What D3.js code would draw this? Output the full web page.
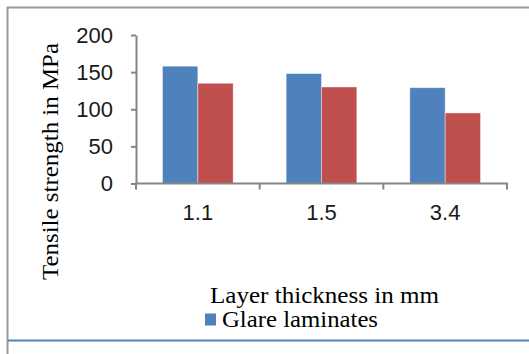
<!DOCTYPE html>
<html>
<head>
<meta charset="utf-8">
<script src="https://cdn.jsdelivr.net/npm/d3@7"></script>
<style>
  html, body { margin: 0; padding: 0; background: #fff; }
  svg { display: block; }
</style>
</head>
<body>
<svg id="chart" width="529" height="354"></svg>
<script>
// Tensile strength of glare laminates by layer thickness
const categories = ["1.1", "1.5", "3.4"];
const seriesNames = ["Glare laminates", "Series 2"];
const glareValues = [158, 148, 129];
const secondValues = [135, 130, 95];
const yTicks = [0, 50, 100, 150, 200];

const seriesColors = ["#4F81BD", "#C0504D"];
const axisColor = "#868686";
const serif = "'Liberation Serif', 'Times New Roman', serif";
const sans = "'Liberation Sans', Arial, sans-serif";

const svg = d3.select("#chart");

// frame lines
svg.append("line").attr("x1", 7.5).attr("x2", 7.5).attr("y1", 7).attr("y2", 354)
  .attr("stroke", "#9a9a9a").attr("stroke-width", 2);
svg.append("line").attr("x1", 7).attr("x2", 529).attr("y1", 7.5).attr("y2", 7.5)
  .attr("stroke", "#9a9a9a").attr("stroke-width", 2);
svg.append("line").attr("x1", 8).attr("x2", 529).attr("y1", 340.5).attr("y2", 340.5)
  .attr("stroke", "#4F81BD").attr("stroke-width", 2);

const plot = { left: 136, right: 507, top: 35, bottom: 183.5 };

const x0 = d3.scaleBand().domain(categories).range([plot.left, plot.right]).padding(0);
const x1 = d3.scaleBand().domain(d3.range(seriesNames.length))
  .range([0, x0.bandwidth()]).paddingInner(0).paddingOuter(0.75);
const y = d3.scaleLinear().domain([0, 200]).range([plot.bottom, plot.top]);

const rows = categories.map((c, i) => ({ cat: c, vals: [glareValues[i], secondValues[i]] }));

// bars
const groups = svg.append("g").selectAll("g").data(rows).join("g")
  .attr("transform", d => `translate(${x0(d.cat)},0)`);
groups.selectAll("rect").data(d => d.vals.map((v, k) => ({ v, k }))).join("rect")
  .attr("x", d => x1(d.k))
  .attr("y", d => y(d.v))
  .attr("width", x1.bandwidth())
  .attr("height", d => y(0) - y(d.v))
  .attr("fill", d => seriesColors[d.k])
  .attr("stroke", "rgba(255,255,255,0.5)")
  .attr("stroke-width", 0.8);

// y axis
const yAxis = svg.append("g").attr("transform", `translate(${plot.left},0)`)
  .call(d3.axisLeft(y).tickValues(yTicks).tickSize(5).tickPadding(18).tickSizeOuter(0));
yAxis.select(".domain").attr("stroke", axisColor).attr("stroke-width", 2);
yAxis.selectAll(".tick line").attr("stroke", axisColor).attr("stroke-width", 2);
yAxis.selectAll(".tick text")
  .attr("font-family", sans).attr("font-size", 22).attr("fill", "#1a1a1a");

// x axis with ticks between categories
const xAxis = svg.append("g").attr("transform", `translate(0,${plot.bottom})`)
  .call(d3.axisBottom(x0).tickSize(0).tickPadding(21));
xAxis.select(".domain").remove();
xAxis.append("line").attr("x1", plot.left - 1).attr("x2", plot.right + 1)
  .attr("stroke", axisColor).attr("stroke-width", 2);
const bounds = categories.map(c => x0(c)).concat([plot.right]);
xAxis.selectAll(".sep").data(bounds).join("line").attr("class", "sep")
  .attr("x1", d => d).attr("x2", d => d).attr("y1", 0).attr("y2", 6)
  .attr("stroke", axisColor).attr("stroke-width", 2);
xAxis.selectAll(".tick text")
  .attr("font-family", sans).attr("font-size", 22).attr("fill", "#1a1a1a").attr("dy", "0.71em");

// axis titles
svg.append("text")
  .attr("transform", "translate(58,161.5) rotate(-90)")
  .attr("text-anchor", "middle")
  .attr("font-family", serif).attr("font-size", 24).attr("fill", "#000")
  .attr("textLength", 237).attr("lengthAdjust", "spacingAndGlyphs")
  .text("Tensile strength in MPa");

svg.append("text")
  .attr("x", 324.5).attr("y", 303)
  .attr("text-anchor", "middle")
  .attr("font-family", serif).attr("font-size", 24).attr("fill", "#000")
  .attr("textLength", 229).attr("lengthAdjust", "spacingAndGlyphs")
  .text("Layer thickness in mm");

// legend
const legend = svg.append("g");
legend.append("rect").attr("x", 205).attr("y", 313.5).attr("width", 11).attr("height", 12)
  .attr("fill", seriesColors[0]);
legend.append("text").attr("x", 222).attr("y", 327)
  .attr("font-family", serif).attr("font-size", 24).attr("fill", "#000")
  .attr("textLength", 156).attr("lengthAdjust", "spacingAndGlyphs")
  .text(seriesNames[0]);
</script>
</body>
</html>
